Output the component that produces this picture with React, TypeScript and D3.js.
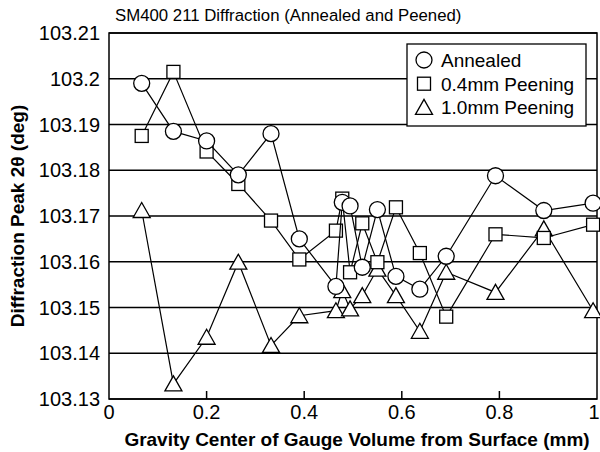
import React from 'react';
import * as d3 from 'd3';

// distances from surface (mm), shared by all three series
const depths = [0.067, 0.132, 0.2, 0.265, 0.332, 0.39, 0.465, 0.478, 0.494, 0.519, 0.55, 0.588, 0.637, 0.691, 0.792, 0.891, 0.992];

const annealed = [103.199, 103.1885, 103.1864, 103.179, 103.188, 103.165, 103.1546, 103.173, 103.1722, 103.1588, 103.1714, 103.1568, 103.154, 103.1612, 103.1788, 103.1712, 103.1728];
const peen04 = [103.1875, 103.2015, 103.1841, 103.177, 103.169, 103.1605, 103.1668, 103.1738, 103.1577, 103.1684, 103.1599, 103.1719, 103.1619, 103.148, 103.166, 103.1652, 103.1681];
const peen10 = [103.1712, 103.1333, 103.1435, 103.1599, 103.1417, 103.1482, 103.1493, 103.1537, 103.1497, 103.1526, 103.1584, 103.1526, 103.1448, 103.1577, 103.1533, 103.1672, 103.1493];

const seriesNames = ['Annealed', '0.4mm Peening', '1.0mm Peening'];
const yTicks = [103.13, 103.14, 103.15, 103.16, 103.17, 103.18, 103.19, 103.2, 103.21];
const xTicks = [0, 0.2, 0.4, 0.6, 0.8, 1];

const W = 600;
const H = 452;
const FONT = '"Liberation Sans", Arial, sans-serif';

type Shape = 'circle' | 'square' | 'triangle';

const Marker = ({ x, y, shape }: { x: number; y: number; shape: Shape }) => {
  const common = { fill: '#fff', stroke: '#000', strokeWidth: 1.3 };
  if (shape === 'circle') return <circle cx={x} cy={y} r={8} {...common} />;
  if (shape === 'square') return <rect x={x - 6.5} y={y - 6.5} width={13} height={13} {...common} />;
  return <path d={`M${x},${y - 8}L${x + 8.5},${y + 7}L${x - 8.5},${y + 7}Z`} {...common} />;
};

export default function App() {
  const margin = { top: 33, right: 3, bottom: 53, left: 109 };
  const x = d3.scaleLinear().domain([0, 1]).range([margin.left, W - margin.right]);
  const y = d3.scaleLinear().domain([103.13, 103.21]).range([H - margin.bottom, margin.top]);

  const line = d3.line<[number, number]>()
    .x(d => x(d[0]))
    .y(d => y(d[1]));

  // drawn back to front: triangles, squares, circles
  const series: { name: string; values: number[]; shape: Shape }[] = [
    { name: seriesNames[2], values: peen10, shape: 'triangle' },
    { name: seriesNames[1], values: peen04, shape: 'square' },
    { name: seriesNames[0], values: annealed, shape: 'circle' },
  ];
  const legendShapes: Shape[] = ['circle', 'square', 'triangle'];

  const x0 = x(0), x1 = x(1), yTop = y(103.21), yBot = y(103.13);

  return (
    <svg width={W} height={H} style={{ position: 'absolute', left: 0, top: 0, background: '#fff' }} fontFamily={FONT}>
      <rect width={W} height={H} fill="#fff" />
      <text x={115} y={21} fontSize={16.8} fill="#000">SM400 211 Diffraction (Annealed and Peened)</text>

      {/* gridlines */}
      {yTicks.map(t => (
        <line key={t} x1={x0} x2={x1} y1={y(t)} y2={y(t)} stroke="#000" strokeWidth={1.5} />
      ))}
      {/* x ticks pointing inward */}
      {xTicks.slice(1, -1).map(t => (
        <line key={t} x1={x(t)} x2={x(t)} y1={yBot} y2={yBot - 8} stroke="#000" strokeWidth={1.5} />
      ))}
      <rect x={x0} y={yTop} width={x1 - x0} height={yBot - yTop} fill="none" stroke="#000" strokeWidth={1.5} />

      {yTicks.map(t => (
        <text key={t} x={100} y={y(t)} dy="0.36em" textAnchor="end" fontSize={20}>{String(+t.toFixed(2))}</text>
      ))}
      {xTicks.map((t, i) => {
        const last = i === xTicks.length - 1;
        // the last label sits on the right edge of the picture, so keep it inside
        return (
          <text key={t} x={last ? W - 0.5 : x(t)} y={419} textAnchor={last ? 'end' : 'middle'} fontSize={20}>{String(t)}</text>
        );
      })}

      <text x={(x0 + x1) / 2 + 4} y={446} textAnchor="middle" fontSize={19} fontWeight="bold">
        Gravity Center of Gauge Volume from Surface (mm)
      </text>
      <text transform={`translate(24,${(yTop + yBot) / 2}) rotate(-90)`} textAnchor="middle" fontSize={19} fontWeight="bold">
        Diffraction Peak 2θ (deg)
      </text>

      {series.map(s => {
        const pts = depths.map((d, i) => [d, s.values[i]] as [number, number]);
        return (
          <g key={s.name}>
            <path d={line(pts) ?? ''} fill="none" stroke="#000" strokeWidth={1.2} />
            {pts.map((p, i) => (
              <Marker key={i} x={x(p[0])} y={y(p[1])} shape={s.shape} />
            ))}
          </g>
        );
      })}

      {/* legend */}
      <g>
        <rect x={407} y={44} width={179} height={82} fill="#fff" stroke="#000" strokeWidth={1.3} />
        {seriesNames.map((n, i) => (
          <g key={n}>
            <Marker x={424} y={60 + i * 23.7} shape={legendShapes[i]} />
            <text x={441} y={60 + i * 23.7} dy="0.36em" fontSize={19}>{n}</text>
          </g>
        ))}
      </g>
    </svg>
  );
}
